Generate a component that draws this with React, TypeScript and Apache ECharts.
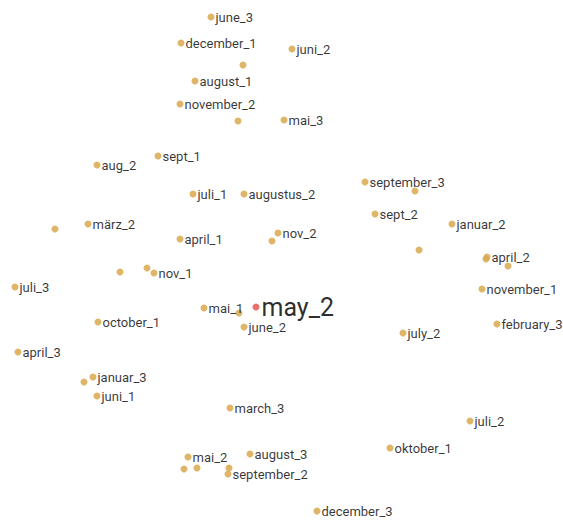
import React, { useEffect, useRef } from "react";
import * as echarts from "echarts";

// Embedding coordinates (x to the right, y downward)
const labels: string[] = [
  "june_3", "december_1", "", "august_1", "november_2", "", "sept_1", "aug_2",
  "juni_2", "mai_3", "juli_1", "augustus_2", "", "märz_2", "april_1", "nov_2", "",
  "", "", "nov_1", "juli_3", "mai_1", "", "october_1", "june_2", "april_3",
  "september_3", "", "sept_2", "januar_2", "", "april_2", "", "", "november_1",
  "february_3", "july_2", "januar_3", "", "juni_1", "march_3", "mai_2", "august_3",
  "", "", "", "september_2", "juli_2", "oktober_1", "december_3",
];
const xs: number[] = [
  211, 181, 243, 195, 180, 238, 158, 97,
  292, 284, 193, 244, 55, 88, 180, 278, 272,
  120, 147, 154, 15, 204, 239, 98, 244, 18,
  365, 415, 375, 452, 419, 487, 486, 508, 482,
  497, 403, 93, 84, 97, 230, 188, 250,
  184, 197, 229, 228, 470, 390, 317,
];
const ys: number[] = [
  17, 43, 65, 81, 104, 121, 156, 165,
  49, 120, 194, 194, 229, 224, 239, 233, 241,
  272, 268, 273, 287, 308, 313, 322, 327, 352,
  182, 191, 214, 224, 250, 257, 259, 266, 289,
  324, 333, 377, 382, 396, 408, 457, 454,
  469, 468, 468, 474, 421, 448, 511,
];
const focusLabel = "may_2";
const focusX = 256;
const focusY = 307;

export default function App() {
  const ref = useRef<HTMLDivElement>(null);
  useEffect(() => {
    if (!ref.current) return;
    const chart = echarts.init(ref.current, undefined, { renderer: "svg" });
    const data = xs.map((x, i) => ({
      value: [x, ys[i]],
      name: labels[i],
    }));
    chart.setOption({
      animation: false,
      grid: { left: 0, right: 0, top: 0, bottom: 0 },
      xAxis: { type: "value", min: 0, max: 563, show: false },
      yAxis: { type: "value", min: 0, max: 521, inverse: true, show: false },
      series: [
        {
          type: "scatter",
          symbolSize: 7,
          itemStyle: { color: "#d9a94e", opacity: 0.85 },
          label: {
            show: true,
            position: "right",
            distance: 1,
            formatter: (p: any) => p.name,
            fontFamily: "Roboto",
            fontSize: 13,
            color: "#111",
          },
          data,
        },
        {
          type: "scatter",
          symbolSize: 7,
          itemStyle: { color: "#e8605e", opacity: 0.9 },
          label: {
            show: true,
            position: "right",
            distance: 2,
            formatter: (p: any) => p.name,
            fontFamily: "Roboto",
            fontSize: 25,
            color: "#111",
          },
          data: [{ value: [focusX, focusY], name: focusLabel }],
        },
      ],
    });
    return () => chart.dispose();
  }, []);
  return (
    <div
      ref={ref}
      style={{ position: "absolute", left: 0, top: 0, width: 563, height: 521, background: "#fff" }}
    />
  );
}
